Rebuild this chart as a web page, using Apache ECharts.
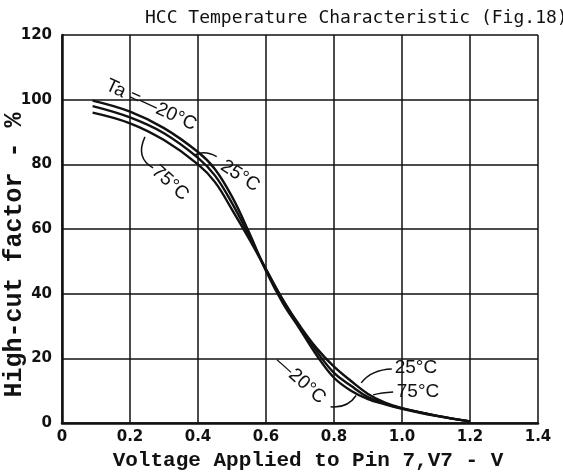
<!DOCTYPE html>
<html>
<head>
<meta charset="utf-8">
<script src="https://cdn.jsdelivr.net/npm/echarts@6/dist/echarts.min.js"></script>
<style>
  html, body { margin: 0; padding: 0; background: #fff; }
  #main { width: 563px; height: 473px; }
</style>
</head>
<body>
<div id="main"></div>
<script>
// values (V, %)
var voltsM20 = [0.09, 0.2, 0.3, 0.4, 0.45, 0.5, 0.55, 0.6, 0.65, 0.7, 0.75, 0.8, 0.85, 0.9, 0.95, 1.0, 1.1, 1.2]
var hcM20 = [99.7, 96.3, 91.2, 83.8, 78.5, 70, 59, 47, 37, 29, 20.8, 14, 10, 7.4, 5.8, 4.4, 2.2, 0.5]
var volts25 = [0.09, 0.2, 0.3, 0.4, 0.45, 0.5, 0.55, 0.6, 0.65, 0.7, 0.75, 0.8, 0.85, 0.9, 0.95, 1.0, 1.1, 1.2]
var hc25 = [98, 94.5, 89.6, 82, 76.5, 68, 58, 47.5, 38, 30, 23, 17.4, 13, 9, 6.3, 4.6, 2.3, 0.5]
var volts75 = [0.09, 0.2, 0.3, 0.4, 0.45, 0.5, 0.55, 0.6, 0.65, 0.7, 0.75, 0.8, 0.85, 0.9, 0.95, 1.0, 1.1, 1.2]
var hc75 = [96, 92.7, 87.5, 80, 74.5, 66, 57, 47.5, 38, 29.5, 22, 15.5, 11.5, 8, 6, 4.5, 2.3, 0.5]
var xTicks = [0, 0.2, 0.4, 0.6, 0.8, 1.0, 1.2, 1.4]
var yTicks = [0, 20, 40, 60, 80, 100, 120]

function pairs(xs, ys) {
  return xs.map(function(x, i) { return [x, ys[i]] })
}

var myChart = echarts.init(document.getElementById('main'))

function curve(name, data) {
  return {
    name: name,
    type: 'line',
    smooth: 0.4,
    showSymbol: false,
    data: data,
    lineStyle: { color: '#111', width: 2.4 },
    silent: true
  }
}

var option = {
  animation: false,
  backgroundColor: '#fff',
  title: {
    text: 'HCC Temperature Characteristic (Fig.18)',
    left: 140,
    top: 4,
    textStyle: { fontFamily: 'DejaVu Sans Mono', fontWeight: 'normal', fontSize: 18, color: '#111' }
  },
  grid: { left: 62, right: 25, top: 35, bottom: 50, containLabel: false, outerBoundsMode: 'none' },
  xAxis: {
    type: 'value',
    min: xTicks[0],
    max: xTicks[xTicks.length - 1],
    interval: 0.2,
    name: 'Voltage Applied to Pin 7,V7 - V',
    nameLocation: 'middle',
    nameGap: 27,
    nameMoveOverlap: false,
    nameTextStyle: { fontFamily: 'Liberation Mono', fontWeight: 'bold', fontSize: 21, color: '#111', padding: [0, 0, 0, 16] },
    axisLine: { lineStyle: { color: '#111', width: 2.5 } },
    axisTick: { show: false },
    axisLabel: {
      margin: 7,
      fontFamily: 'DejaVu Sans',
      fontWeight: 'bold',
      fontSize: 15,
      color: '#111',
      formatter: function(v) { return v === 0 ? '0' : v.toFixed(1) }
    },
    splitLine: { show: true, lineStyle: { color: '#111', width: 1.5 } }
  },
  yAxis: {
    type: 'value',
    min: yTicks[0],
    max: yTicks[yTicks.length - 1],
    interval: 20,
    name: 'High-cut factor - %',
    nameLocation: 'middle',
    nameGap: 35,
    nameMoveOverlap: false,
    nameTextStyle: { fontFamily: 'Liberation Mono', fontWeight: 'bold', fontSize: 25, color: '#111', padding: [0, 52, 0, 0] },
    axisLine: { show: true, lineStyle: { color: '#111', width: 2.5 } },
    axisTick: { show: false },
    axisLabel: { margin: 10, fontFamily: 'DejaVu Sans', fontWeight: 'bold', fontSize: 15, color: '#111' },
    splitLine: { show: true, lineStyle: { color: '#111', width: 1.5 } }
  },
  series: [
    curve('-20°C', pairs(voltsM20, hcM20)),
    curve('25°C', pairs(volts25, hc25)),
    curve('75°C', pairs(volts75, hc75))
  ]
}
myChart.setOption(option)

// annotations placed in data coordinates
function px(p) { return myChart.convertToPixel({ gridIndex: 0 }, p) }

function label(text, at, rotDeg) {
  var p = px(at)
  return {
    type: 'text',
    x: p[0],
    y: p[1],
    rotation: rotDeg * Math.PI / 180,
    style: {
      text: text,
      fill: '#111',
      font: '19px "Liberation Sans"',
      align: 'center',
      verticalAlign: 'middle'
    },
    z: 10
  }
}

function leader(a, c, b) {
  var p1 = px(a), pc = px(c), p2 = px(b)
  return {
    type: 'bezierCurve',
    shape: { x1: p1[0], y1: p1[1], cpx1: pc[0], cpy1: pc[1], x2: p2[0], y2: p2[1] },
    style: { stroke: '#111', lineWidth: 1.5, fill: null },
    z: 10
  }
}

myChart.setOption({
  graphic: [
    label('Ta =—20°C', [0.262, 98.3], -25),
    label('25°C', [0.524, 76.4], -33),
    label('75°C', [0.318, 74.2], -42),
    label('—20°C', [0.70, 13.3], -42),
    label('25°C', [1.041, 17], 0),
    label('75°C', [1.047, 9.6], 0),
    leader([0.39, 82.9], [0.42, 84.5], [0.455, 82.4]),
    leader([0.244, 88.5], [0.215, 82], [0.268, 78.9]),
    leader([0.79, 5], [0.84, 4.5], [0.865, 8.5]),
    leader([0.97, 16.7], [0.91, 16.5], [0.88, 12.4]),
    leader([0.974, 9.6], [0.94, 9.4], [0.915, 8.7])
  ]
})
</script>
</body>
</html>
